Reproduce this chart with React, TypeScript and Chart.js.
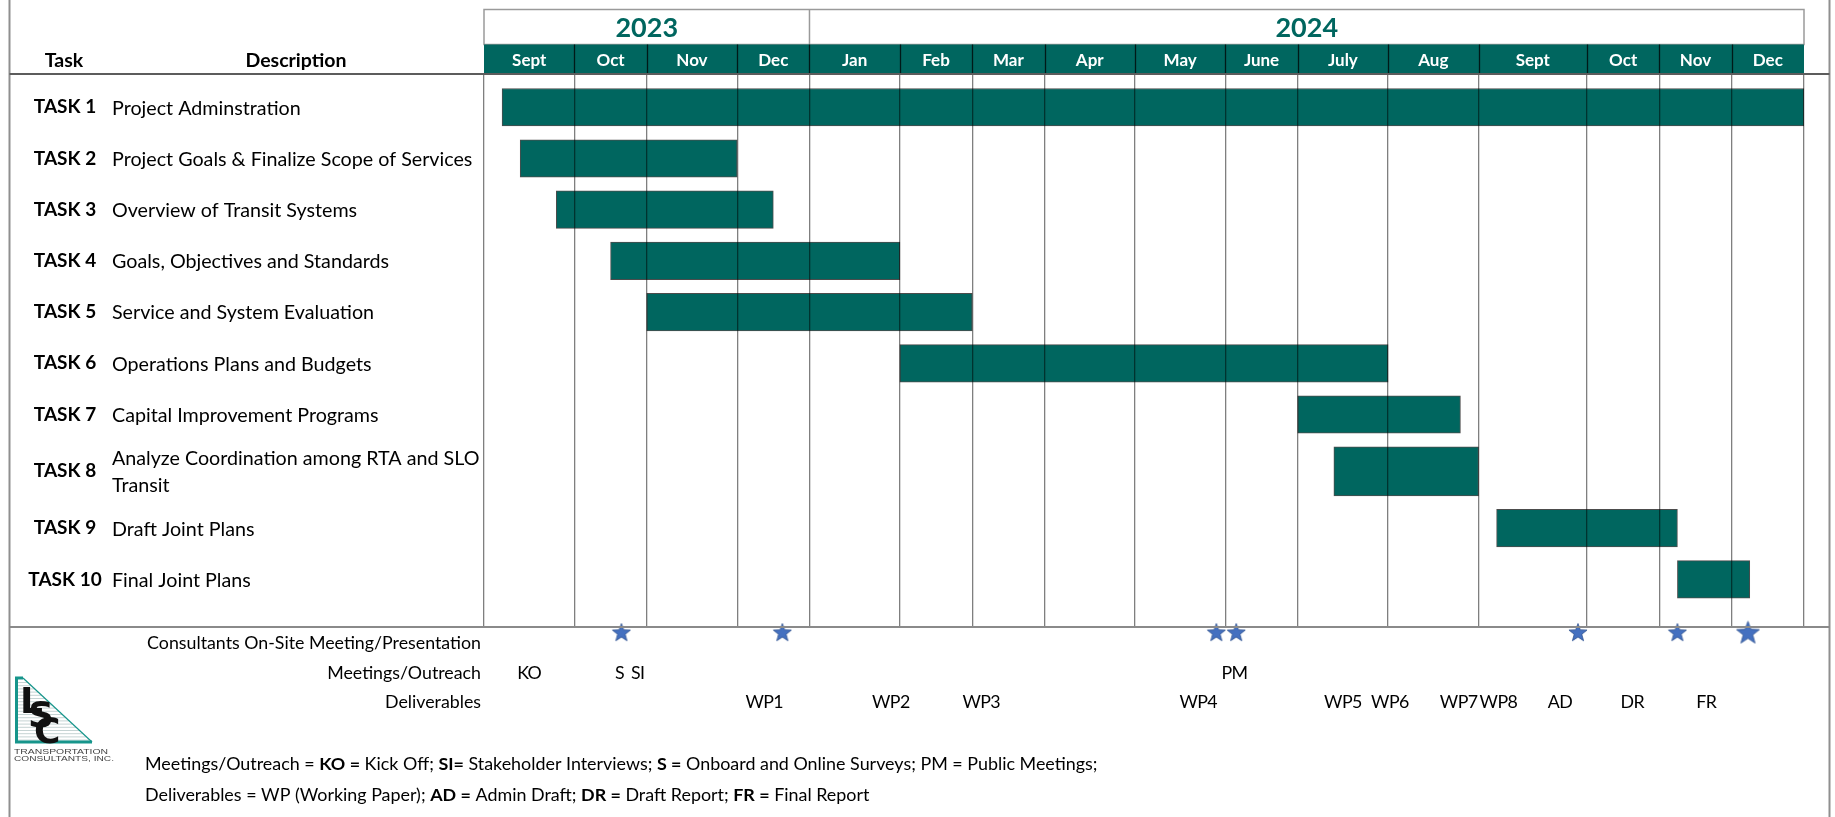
import React, { useEffect, useRef } from "react";
import { Chart, registerables } from "chart.js";
Chart.register(...registerables);

// ---------------- data ----------------
const yearLabels = ["2023", "2024"];
const yearMonthCounts = [4, 12];
const monthLabels = ["Sept", "Oct", "Nov", "Dec", "Jan", "Feb", "Mar", "Apr", "May", "June", "July", "Aug", "Sept", "Oct", "Nov", "Dec"];
const monthWeeks = [5, 4, 5, 4, 5, 4, 4, 5, 5, 4, 5, 5, 6, 4, 4, 4];

const taskIds = ["TASK 1", "TASK 2", "TASK 3", "TASK 4", "TASK 5", "TASK 6", "TASK 7", "TASK 8", "TASK 9", "TASK 10"];
const taskDescriptions = [
  ["Project Adminstration"],
  ["Project Goals & Finalize Scope of Services"],
  ["Overview of Transit Systems"],
  ["Goals, Objectives and Standards"],
  ["Service and System Evaluation"],
  ["Operations Plans and Budgets"],
  ["Capital Improvement Programs"],
  ["Analyze Coordination among RTA and SLO", "Transit"],
  ["Draft Joint Plans"],
  ["Final Joint Plans"],
];
const taskStartWeek = [1, 2, 4, 7, 9, 23, 45, 47, 56, 66];
const taskEndWeek = [73, 14, 16, 23, 27, 50, 54, 55, 66, 70];

const onSiteWeeks = [7.6, 16.5, 40.5, 41.6, 60.5, 66, 69.9];
const outreachLabels = ["KO", "S", "SI", "PM"];
const outreachWeeks = [2.5, 7.5, 8.5, 41.5];
const deliverableLabels = ["WP1", "WP2", "WP3", "WP4", "WP5", "WP6", "WP7", "WP8", "AD", "DR", "FR"];
const deliverableWeeks = [15.5, 22.5, 27.5, 39.5, 47.5, 50.1, 53.9, 56.1, 59.5, 63.5, 67.6];
const bottomRowTitles = ["Consultants On-Site Meeting/Presentation", "Meetings/Outreach", "Deliverables"];

const footnoteLine1: [string, boolean][] = [
  ["Meetings/Outreach = ", false], ["KO =", true], [" Kick Off; ", false], ["SI=", true],
  [" Stakeholder Interviews; ", false], ["S =", true], [" Onboard and Online Surveys; PM = Public Meetings;", false],
];
const footnoteLine2: [string, boolean][] = [
  ["Deliverables = WP (Working Paper); ", false], ["AD =", true], [" Admin Draft; ", false], ["DR =", true],
  [" Draft Report; ", false], ["FR =", true], [" Final Report", false],
];

// ---------------- derived ----------------
const monthBounds: number[] = [0];
monthWeeks.forEach((w) => monthBounds.push(monthBounds[monthBounds.length - 1] + w));
const totalWeeks = monthBounds[monthBounds.length - 1];

const EXTRA_LINE_UNITS = 0.22;
const rowHeights = taskDescriptions.map((d) => 1 + (d.length - 1) * EXTRA_LINE_UNITS);
const rowCenters: number[] = [];
{
  let acc = 0;
  rowHeights.forEach((h) => {
    rowCenters.push(acc + h / 2);
    acc += h;
  });
}
const Y_MIN = -0.15;
const Y_MAX = 10.65;
const MILESTONE_Y = Y_MAX + 0.1;

const TEAL = "#00665F";
const STAR_BLUE = "#4470C0";
const FONT = 'Lato, "Noto Sans", sans-serif';

function makeStar(size: number) {
  const c = document.createElement("canvas");
  c.width = size;
  c.height = size;
  const g = c.getContext("2d")!;
  const R = size / 2 - 0.5;
  const r = R * 0.42;
  const cx = size / 2;
  const cy = size / 2 + R * 0.1;
  g.beginPath();
  for (let i = 0; i < 10; i++) {
    const a = -Math.PI / 2 + (i * Math.PI) / 5;
    const rad = i % 2 === 0 ? R : r;
    g.lineTo(cx + rad * Math.cos(a), cy + rad * Math.sin(a));
  }
  g.closePath();
  g.fillStyle = STAR_BLUE;
  g.fill();
  g.strokeStyle = "#2F528F";
  g.lineWidth = 0.8;
  g.stroke();
  return c;
}

function drawSegments(ctx: CanvasRenderingContext2D, segs: [string, boolean][], x: number, y: number, size: number) {
  let cx = x;
  for (const [t, b] of segs) {
    ctx.font = `${b ? "bold " : ""}${size}px ${FONT}`;
    ctx.fillText(t, cx, y);
    cx += ctx.measureText(t).width;
  }
}

function drawStretched(ctx: CanvasRenderingContext2D, text: string, x: number, y: number, width: number) {
  const m = ctx.measureText(text).width;
  ctx.save();
  ctx.translate(x, y);
  ctx.scale(width / m, 1);
  ctx.fillText(text, 0, 0);
  ctx.restore();
}

function drawLogo(ctx: CanvasRenderingContext2D, x: number, y: number) {
  // x,y = top-left of the triangle
  ctx.save();
  const w = 77;
  const h = 65;
  ctx.strokeStyle = "#c5d3d3";
  ctx.lineWidth = 1;
  for (let yy = y + 5; yy < y + h - 1; yy += 3.2) {
    const t = (yy - y) / h;
    const xe = x + 8 + t * (w - 8);
    ctx.beginPath();
    ctx.moveTo(x + 3, yy + 0.5);
    ctx.lineTo(xe, yy + 0.5);
    ctx.stroke();
  }
  ctx.strokeStyle = "#16958B";
  ctx.lineWidth = 3;
  ctx.beginPath();
  ctx.moveTo(x + 8, y + 1);
  ctx.lineTo(x + 1.5, y + 1);
  ctx.lineTo(x + 1.5, y + h);
  ctx.lineTo(x + w, y + h);
  ctx.stroke();
  ctx.lineWidth = 1.2;
  ctx.beginPath();
  ctx.moveTo(x + 8, y + 1);
  ctx.lineTo(x + w, y + h);
  ctx.stroke();
  ctx.fillStyle = "#111";
  ctx.textAlign = "left";
  ctx.textBaseline = "alphabetic";
  ctx.font = `bold 36px "DejaVu Sans", sans-serif`;
  ctx.fillText("L", x + 5, y + 36);
  ctx.fillText("S", x + 13, y + 50);
  ctx.fillText("C", x + 19, y + 66);
  ctx.fillStyle = "#444";
  ctx.font = `8px "Liberation Sans", sans-serif`;
  drawStretched(ctx, "TRANSPORTATION", x - 1, y + h + 12, 94);
  drawStretched(ctx, "CONSULTANTS, INC.", x - 1, y + h + 18.5, 100);
  ctx.restore();
}

const decorPlugin = {
  id: "ganttDecor",
  afterDraw(chart: any) {
    const { ctx, chartArea: ca, scales } = chart;
    const xs = scales.x;
    const ys = scales.y;
    const W = chart.width;
    const frameL = 9.5;
    const frameR = W - 5.5;
    const monthTop = ca.top - 29.5;
    const yearTop = monthTop - 35;
    ctx.save();

    ctx.strokeStyle = "#8f8f8f";
    ctx.lineWidth = 2;
    ctx.beginPath();
    ctx.moveTo(frameL, 0);
    ctx.lineTo(frameL, chart.height);
    ctx.moveTo(frameR, 0);
    ctx.lineTo(frameR, chart.height);
    ctx.stroke();

    // year row
    ctx.strokeStyle = "#9a9a9a";
    ctx.lineWidth = 1.5;
    const xl = xs.getPixelForValue(0);
    const xr = xs.getPixelForValue(totalWeeks);
    ctx.strokeRect(xl, yearTop, xr - xl, monthTop - yearTop);
    let mIdx = 0;
    yearLabels.forEach((yl, i) => {
      const x0 = xs.getPixelForValue(monthBounds[mIdx]);
      mIdx += yearMonthCounts[i];
      const x1 = xs.getPixelForValue(monthBounds[mIdx]);
      if (i > 0) {
        ctx.beginPath();
        ctx.moveTo(x0, yearTop);
        ctx.lineTo(x0, monthTop);
        ctx.stroke();
      }
      ctx.fillStyle = TEAL;
      ctx.font = `bold 27px ${FONT}`;
      ctx.textAlign = "center";
      ctx.textBaseline = "middle";
      ctx.fillText(yl, (x0 + x1) / 2, (yearTop + monthTop) / 2 + 1);
    });

    // month row
    ctx.fillStyle = TEAL;
    ctx.fillRect(xl, monthTop, xr - xl, ca.top - monthTop);
    ctx.strokeStyle = "rgba(0,0,0,0.75)";
    ctx.lineWidth = 1.3;
    monthLabels.forEach((m, i) => {
      const x0 = xs.getPixelForValue(monthBounds[i]);
      const x1 = xs.getPixelForValue(monthBounds[i + 1]);
      if (i > 0) {
        ctx.beginPath();
        ctx.moveTo(Math.round(x0) + 0.5, monthTop);
        ctx.lineTo(Math.round(x0) + 0.5, ca.top);
        ctx.stroke();
      }
      ctx.fillStyle = "#ffffff";
      ctx.font = `bold 17px ${FONT}`;
      ctx.textAlign = "center";
      ctx.textBaseline = "middle";
      ctx.fillText(m, (x0 + x1) / 2, (monthTop + ca.top) / 2 + 1);
    });

    ctx.strokeStyle = "#5c5c5c";
    ctx.lineWidth = 2;
    ctx.beginPath();
    ctx.moveTo(frameL, ca.top);
    ctx.lineTo(frameR, ca.top);
    ctx.stroke();
    ctx.strokeStyle = "#8a8a8a";
    ctx.beginPath();
    ctx.moveTo(frameL, ca.bottom);
    ctx.lineTo(frameR, ca.bottom);
    ctx.stroke();

    // column headers
    ctx.fillStyle = "#000";
    ctx.font = `bold 19.5px ${FONT}`;
    ctx.textAlign = "center";
    ctx.textBaseline = "middle";
    ctx.fillText("Task", 64, ca.top - 13);
    ctx.fillText("Description", 296, ca.top - 13);

    // task rows
    taskIds.forEach((id, i) => {
      const yc = ys.getPixelForValue(rowCenters[i]);
      ctx.fillStyle = "#000";
      ctx.font = `bold 19px ${FONT}`;
      ctx.textAlign = "center";
      ctx.fillText(id, 65, yc);
      ctx.font = `19.7px ${FONT}`;
      ctx.textAlign = "left";
      const lines = taskDescriptions[i];
      const lh = 26.5;
      lines.forEach((ln, k) => {
        ctx.fillText(ln, 112, yc + 1 + (k - (lines.length - 1) / 2) * lh);
      });
    });

    // bottom rows
    const rowY = [ca.bottom + 16.5, ca.bottom + 46.5, ca.bottom + 75.5];
    ctx.font = `17.8px ${FONT}`;
    ctx.fillStyle = "#000";
    ctx.textAlign = "right";
    bottomRowTitles.forEach((t, i) => ctx.fillText(t, 481, rowY[i]));
    ctx.textAlign = "center";
    (ctx as any).letterSpacing = "-0.6px";
    outreachLabels.forEach((l, i) => ctx.fillText(l, xs.getPixelForValue(outreachWeeks[i]), rowY[1]));
    deliverableLabels.forEach((l, i) => ctx.fillText(l, xs.getPixelForValue(deliverableWeeks[i]), rowY[2]));
    (ctx as any).letterSpacing = "0px";

    ctx.textAlign = "left";
    drawSegments(ctx, footnoteLine1, 145, ca.bottom + 137.5, 17.9);
    drawSegments(ctx, footnoteLine2, 145, ca.bottom + 168, 17.9);

    drawLogo(ctx, 15, ca.bottom + 50);

    ctx.restore();
  },
};

export default function App() {
  const ref = useRef<HTMLCanvasElement | null>(null);
  useEffect(() => {
    document.body.style.margin = "0";
    const canvas = ref.current!;
    const star = makeStar(20);
    const bigStar = makeStar(25);
    const barDatasets = taskIds.map((id, i) => {
      const thick = 37.5 + (taskDescriptions[i].length - 1) * 11.5;
      return {
        type: "bar" as const,
        label: id,
        indexAxis: "y" as const,
        data: [{ x: [taskStartWeek[i], taskEndWeek[i]], y: rowCenters[i] }],
        backgroundColor: TEAL,
        borderColor: "rgba(45,45,45,0.85)",
        borderWidth: 1,
        borderSkipped: false,
        grouped: false,
        barThickness: thick,
        maxBarThickness: thick,
        xAxisID: "x",
        yAxisID: "y",
      };
    });
    const starDataset = {
      type: "scatter" as const,
      label: "On-Site",
      data: onSiteWeeks.map((w) => ({ x: w, y: MILESTONE_Y })),
      pointStyle: (c: any) => (c.dataIndex === onSiteWeeks.length - 1 ? bigStar : star),
      pointRadius: 10,
      clip: false as any,
      xAxisID: "x",
      yAxisID: "y",
    };
    const chart = new Chart(canvas, {
      type: "bar",
      data: { datasets: [...barDatasets, starDataset] as any },
      options: {
        responsive: false,
        animation: false,
        devicePixelRatio: 1,
        events: [],
        layout: { padding: { left: 484, right: 1835 - 1804, top: 74, bottom: 817 - 627 } },
        plugins: { legend: { display: false }, tooltip: { enabled: false }, title: { display: false } },
        scales: {
          x: {
            type: "linear",
            position: "bottom",
            offset: false,
            min: 0,
            max: totalWeeks,
            afterBuildTicks: (s: any) => {
              s.ticks = monthBounds.map((v) => ({ value: v }));
            },
            ticks: { display: false },
            border: { display: false },
            grid: { offset: false, color: "rgba(0,0,0,0.5)", lineWidth: 1.3, drawTicks: false, z: 1 },
          },
          y: {
            type: "linear",
            reverse: true,
            offset: false,
            min: Y_MIN,
            max: Y_MAX,
            display: false,
            grid: { offset: false },
            afterBuildTicks: (s: any) => {
              s.ticks = rowCenters.map((v) => ({ value: v }));
            },
          },
        },
      } as any,
      plugins: [decorPlugin],
    });
    return () => chart.destroy();
  }, []);
  return <canvas ref={ref} width={1835} height={817} style={{ display: "block", width: 1835, height: 817 }} />;
}
